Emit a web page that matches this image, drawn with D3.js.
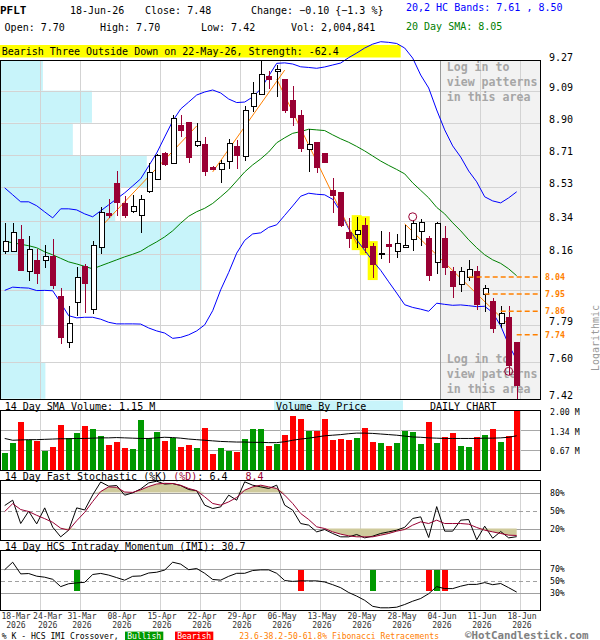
<!DOCTYPE html>
<html><head><meta charset="utf-8">
<script src="https://cdn.jsdelivr.net/npm/d3@7/dist/d3.min.js"></script>
<style>
body{margin:0;background:#fff}
svg{display:block}
text{font-family:"DejaVu Sans Mono","Liberation Mono",monospace;white-space:pre}
</style>
</head><body>
<svg id="chart" width="600" height="640"></svg>
<script>
// ---------------- DATA ----------------
const ticker = "PFLT";
const dates = ["18-Mar","19-Mar","20-Mar","23-Mar","24-Mar","25-Mar","26-Mar","27-Mar","30-Mar","31-Mar",
"01-Apr","02-Apr","06-Apr","07-Apr","08-Apr","09-Apr","10-Apr","13-Apr","14-Apr","15-Apr","16-Apr","17-Apr","20-Apr","21-Apr","22-Apr","23-Apr","24-Apr","27-Apr","28-Apr","29-Apr","30-Apr",
"01-May","04-May","05-May","06-May","07-May","08-May","11-May","12-May","13-May","14-May","15-May","18-May","19-May","20-May","21-May","22-May","26-May","27-May","28-May","29-May",
"01-Jun","02-Jun","03-Jun","04-Jun","05-Jun","08-Jun","09-Jun","10-Jun","11-Jun","12-Jun","15-Jun","16-Jun","17-Jun","18-Jun"];
const year = "2026";
const open  = [8.180,8.176,8.244,8.069,8.131,8.129,8.154,7.941,7.704,7.908,8.099,7.873,8.200,8.385,8.556,8.441,8.399,8.372,8.511,8.575,8.726,8.666,8.887,8.906,8.771,8.777,8.646,8.631,8.680,8.765,8.709,8.999,9.070,9.178,9.204,9.160,9.034,8.945,8.748,8.790,8.723,8.515,8.502,8.284,8.271,8.321,8.203,8.160,8.214,8.176,8.200,8.243,8.289,8.248,8.116,8.248,8.073,7.998,8.042,8.073,7.951,7.911,7.799,7.833,7.70];
const high  = [8.330,8.330,8.321,8.261,8.189,8.212,8.244,7.981,7.889,8.092,8.110,8.234,8.421,8.463,8.621,8.481,8.487,8.487,8.665,8.720,8.730,8.945,8.945,8.906,8.897,8.819,8.650,8.684,8.806,8.800,8.999,9.144,9.270,9.210,9.245,9.160,9.118,8.975,8.862,8.790,8.725,8.584,8.503,8.359,8.363,8.357,8.221,8.289,8.280,8.271,8.321,8.348,8.352,8.261,8.339,8.316,8.095,8.095,8.131,8.099,7.998,7.929,7.885,7.889,7.70];
const low   = [8.162,8.176,8.069,8.016,8.003,8.090,7.976,7.693,7.674,7.837,7.852,7.847,8.162,8.357,8.370,8.359,8.387,8.278,8.496,8.570,8.650,8.666,8.819,8.669,8.761,8.593,8.625,8.553,8.631,8.631,8.680,8.965,9.070,9.098,9.054,8.955,8.881,8.730,8.617,8.612,8.665,8.387,8.310,8.196,8.194,8.167,8.034,8.135,8.116,8.140,8.198,8.176,8.207,8.016,8.056,8.051,7.929,7.958,8.021,7.868,7.854,7.748,7.773,7.537,7.42];
const close = [8.234,8.280,8.069,8.189,8.058,8.151,7.993,7.725,7.799,8.039,8.005,8.212,8.390,8.372,8.441,8.370,8.425,8.463,8.617,8.713,8.656,8.926,8.854,8.694,8.794,8.617,8.627,8.666,8.784,8.709,8.975,9.078,9.190,9.154,9.218,8.971,8.926,8.748,8.775,8.637,8.669,8.478,8.312,8.243,8.293,8.194,8.104,8.167,8.200,8.221,8.212,8.330,8.339,8.046,8.330,8.090,7.989,8.069,8.082,7.894,7.981,7.768,7.851,7.580,7.48];
const volume = [0.57,0.90,1.60,1.01,0.97,0.64,0.77,1.50,1.07,1.23,1.47,1.37,1.13,0.83,0.93,0.73,0.70,1.67,1.07,1.27,0.97,1.07,0.77,0.83,0.73,1.40,0.54,0.74,0.64,0.60,1.04,1.37,1.37,0.80,0.88,1.17,1.80,1.73,1.30,1.30,1.73,1.00,1.04,1.00,1.07,1.40,0.94,0.90,0.80,0.90,1.31,1.27,0.87,1.60,0.90,1.10,1.23,0.80,0.77,1.10,1.17,1.37,0.93,1.13,2.004841]; // millions
const volSMA = [1.06,1.00,1.01,1.02,1.02,1.03,1.04,1.05,1.05,1.06,1.06,1.07,1.08,1.08,1.09,1.08,1.07,1.06,1.06,1.08,1.10,1.09,1.07,1.04,1.02,1.00,0.98,0.96,0.95,0.94,0.94,0.93,0.93,0.92,0.92,0.95,1.00,1.04,1.07,1.11,1.15,1.17,1.19,1.22,1.24,1.24,1.23,1.21,1.19,1.17,1.14,1.11,1.10,1.08,1.07,1.06,1.06,1.06,1.06,1.06,1.07,1.07,1.08,1.10,1.15];
const sma20 = [8.231,8.223,8.215,8.207,8.196,8.174,8.158,8.139,8.120,8.109,8.096,8.083,8.099,8.115,8.131,8.147,8.161,8.177,8.204,8.228,8.255,8.288,8.330,8.368,8.393,8.412,8.439,8.476,8.515,8.565,8.616,8.656,8.690,8.730,8.783,8.812,8.838,8.848,8.862,8.858,8.854,8.829,8.806,8.786,8.762,8.736,8.707,8.678,8.653,8.630,8.605,8.554,8.512,8.470,8.417,8.381,8.332,8.288,8.239,8.196,8.158,8.131,8.112,8.083,8.046];
const bandUpper = [8.526,8.487,8.448,8.448,8.426,8.392,8.359,8.409,8.409,8.403,8.381,8.365,8.398,8.431,8.465,8.498,8.537,8.577,8.650,8.724,8.817,8.910,8.981,9.022,9.064,9.082,9.094,9.076,9.040,9.019,9.022,9.052,9.100,9.178,9.255,9.258,9.251,9.234,9.230,9.225,9.233,9.245,9.257,9.290,9.318,9.349,9.373,9.388,9.384,9.377,9.349,9.287,9.184,9.106,8.975,8.858,8.765,8.701,8.621,8.560,8.476,8.453,8.442,8.470,8.504];
const bandLower = [7.969,7.986,7.983,7.981,7.968,7.969,7.967,7.904,7.837,7.826,7.829,7.829,7.819,7.803,7.795,7.795,7.795,7.794,7.774,7.759,7.748,7.721,7.726,7.739,7.759,7.790,7.863,7.972,8.064,8.167,8.236,8.271,8.277,8.307,8.321,8.373,8.425,8.479,8.496,8.490,8.487,8.462,8.392,8.299,8.239,8.182,8.126,8.075,8.014,7.955,7.894,7.880,7.871,7.860,7.902,7.896,7.891,7.893,7.889,7.884,7.886,7.853,7.785,7.688,7.612];
const stochK = [58.3,67.2,28.3,48.8,27.7,54.4,22.2,6.1,17.2,54.4,50.9,76.0,97.5,90.5,91.6,75.5,79.4,86.0,96.0,98.8,94.0,94.9,91.6,85.0,83.0,58.9,53.3,56.0,75.6,67.2,97.8,92.2,89.4,86.7,92.2,58.9,50.6,28.3,25.6,14.4,18.3,11.7,6.1,6.1,10.0,4.4,7.2,11.7,14.4,17.2,22.0,36.7,39.4,5.0,56.5,15.6,15.6,33.9,35.0,1.2,23.9,3.8,15.0,4.4,6.4];
const stochD = [48.3,61.4,51.6,48.3,42.0,36.4,30.3,20.5,17.2,33.0,47.0,65.0,81.6,89.4,88.6,80.8,80.2,84.5,90.0,94.2,95.3,95.0,92.0,86.7,83.0,72.8,61.7,58.9,64.4,71.7,83.9,89.4,92.2,89.4,86.7,75.6,61.7,45.0,35.0,22.8,20.0,14.4,10.6,7.8,6.1,6.1,6.1,8.9,11.7,15.6,18.3,25.6,31.1,28.3,33.9,28.3,28.3,28.3,27.2,21.7,17.2,14.4,11.7,8.9,8.4];
const imi = [68,80.5,61,61.6,57.2,55.5,52,39.8,44.6,46,47,60,61.8,59,54.8,50.5,57,57.6,62.5,63.8,67.4,80.5,77.3,68,70,62,51.7,50.6,57,62,62,66.6,67.7,67.7,62,50,48.5,49.4,49.4,49.4,47.5,43,38,30,24,17,7,4.5,4.5,5.5,10,15.5,20,28,39.8,36.5,36.5,40.5,43.5,43.5,46.5,43,45,38,30.7];
const imiBullish = [9,46,54];
const imiBearish = [37,53,55];
const priceTicks = [9.27,9.09,8.90,8.71,8.53,8.34,8.16,7.97,7.79,7.60,7.42];
const priceTickLabels = ["9.27","9.09","8.90","8.71","8.53","8.34","8.16","","7.79","7.60","7.42"];
const vbpVolume = [5.1,11.0,8.7,17.6,13.8,24.2,24.2,5.2,4.9,5.4]; // per price band, top to bottom
const volTicks = [2.00,1.34,0.67];
const stochTicks = [80,50,20];
const imiTicks = [70,50,30];
const fibLevels = [8.04,7.95,7.86,7.74];
const fibStart = [58,60,62,64];
const trendLines = [[12,8.308,24,8.881],[26,8.616,35,9.214],[34,9.160,44,8.217],[50,8.326,63,7.790]];
const patternDays = [44,45,46];
const patternName = "Bearish Three Outside Down";
const patternStrength = -62.4;
const signalCircles = [[51,8.365],[63,7.555]];
const loginFromIndex = 54;

// ---------------- DRAW ----------------
const svg = d3.select("#chart");
const n = dates.length;
const last = n - 1;
const x = d3.scaleLinear().domain([0, n - 1]).range([4.7, 516.7]);
const y = d3.scaleLog().domain([7.42, 9.27]).range([398.7, 60.9]);
const P = {l: 0.5, r: 540.5, t: 60.5, b: 399.5};
const volY = d3.scaleLinear().domain([0, 2.0]).range([470, 410.5]).clamp(true);
const stY = d3.scaleLinear().domain([0, 100]).range([540.5, 480.5]);
const imY = d3.scaleLinear().domain([0, 100]).range([610.5, 550.5]);
const vbpX = d3.scaleLinear().domain([0, d3.max(vbpVolume)]).range([0, 201.2]);
const gridIdx = d3.range(4, n, 5);
const gx = i => Math.floor(x(i) + 4) + 0.5;
const cxp = i => Math.round(x(i)) + 0.5;
const MAROON = "#990033", ORANGE = "#ff8000";

function txt(g, px, py, s, o = {}) {
  return g.append("text").attr("x", px).attr("y", py)
    .attr("dominant-baseline", o.base || "central")
    .attr("font-size", o.size || 10)
    .attr("font-weight", o.weight || "normal")
    .attr("fill", o.fill || "#000")
    .attr("text-anchor", o.anchor || "start")
    .text(s);
}

// header
const f2 = d3.format(".2f");
const chg = close[last] - close[last - 1];
txt(svg, 0, 10, ticker, {weight: "bold", size: 11});
txt(svg, 70, 10, dates[last] + "-26");
txt(svg, 145, 10, "Close: " + f2(close[last]));
txt(svg, 251, 10, "Change: " + f2(chg) + " {" + d3.format(".1f")(chg / close[last - 1] * 100) + " %}");
txt(svg, 406, 7, "20,2 HC Bands: " + f2(bandLower[last]) + " , " + f2(bandUpper[last]), {fill: "#0000ff"});
txt(svg, 4.6, 27.5, "Open: " + f2(open[last]));
txt(svg, 100, 27.5, "High: " + f2(high[last]));
txt(svg, 201, 27.5, "Low: " + f2(low[last]));
txt(svg, 291, 27.5, "Vol: " + d3.format(",")(Math.round(volume[last] * 1e6)));
txt(svg, 406, 26, "20 Day SMA: " + f2(sma20[last]), {fill: "#008000"});

// banner
svg.append("rect").attr("x", 0).attr("y", 45).attr("width", 400.7).attr("height", 12.5).attr("fill", "#ffff00");
txt(svg, 1.7, 51.5, patternName + " on " + dates[patternDays[2]] + "-26, Strength: " + patternStrength);

// main panel
const main = svg.append("g");
main.append("rect").attr("x", P.l).attr("y", P.t).attr("width", P.r - P.l).attr("height", P.b - P.t).attr("fill", "#fff");
vbpVolume.forEach((v, k) => {
  const y0 = y(priceTicks[k]), y1 = y(priceTicks[k + 1]);
  main.append("rect").attr("x", P.l).attr("y", Math.max(P.t, y0)).attr("width", vbpX(v))
    .attr("height", Math.min(P.b, y1) - Math.max(P.t, y0)).attr("fill", "#c8f4fa");
});
const gxL = gx(loginFromIndex);
main.append("rect").attr("x", gxL).attr("y", P.t).attr("width", P.r - gxL).attr("height", P.b - P.t).attr("fill", "#f2f2f2");
priceTicks.slice(1, -1).forEach(t => {
  const yy = Math.round(y(t)) + 0.5;
  main.append("line").attr("x1", P.l).attr("x2", P.r).attr("y1", yy).attr("y2", yy)
    .attr("stroke", "#d3d3d3").attr("stroke-width", 1).attr("shape-rendering", "crispEdges");
});
gridIdx.forEach(i => {
  main.append("line").attr("x1", gx(i)).attr("x2", gx(i)).attr("y1", P.t).attr("y2", P.b)
    .attr("stroke", "#d3d3d3").attr("stroke-width", 1).attr("shape-rendering", "crispEdges");
});
main.append("line").attr("x1", gxL).attr("x2", gxL).attr("y1", P.t).attr("y2", P.b)
  .attr("stroke", "#9a9a9a").attr("stroke-width", 1).attr("shape-rendering", "crispEdges");
const loginLines = ["Log in to", "view patterns", "in this area"];
[67.3, 359.3].forEach(y0 => {
  loginLines.forEach((s, k) => txt(main, 446.7, y0 + k * 15, s, {fill: "#a6a6a6", weight: "bold", size: 11.6}));
});
patternDays.forEach(i => {
  main.append("rect").attr("x", x(i) - 5).attr("y", y(high[i]) - 2).attr("width", 10)
    .attr("height", y(low[i]) - y(high[i]) + 4).attr("fill", "#ffff00");
});
const lineP = arr => d3.line().x((d, i) => x(i)).y(d => y(d))(arr);
main.append("path").attr("d", lineP(sma20)).attr("fill", "none").attr("stroke", "#008000").attr("stroke-width", 1);
main.append("path").attr("d", lineP(bandLower)).attr("fill", "none").attr("stroke", "#0000ff").attr("stroke-width", 1);
main.append("path").attr("d", lineP(bandUpper)).attr("fill", "none").attr("stroke", "#0000ff").attr("stroke-width", 1);
trendLines.forEach(([i0, p0, i1, p1]) => {
  main.append("line").attr("x1", x(i0)).attr("y1", y(p0)).attr("x2", x(i1)).attr("y2", y(p1))
    .attr("stroke", ORANGE).attr("stroke-width", 1);
});
d3.range(n).forEach(i => {
  const up = close[i] >= open[i];
  const c = up ? "#000" : MAROON;
  const cx = cxp(i);
  main.append("line").attr("x1", cx).attr("x2", cx).attr("y1", y(high[i])).attr("y2", y(low[i]))
    .attr("stroke", c).attr("stroke-width", 1).attr("shape-rendering", "crispEdges");
  const top = y(Math.max(open[i], close[i])), bot = y(Math.min(open[i], close[i]));
  if (up) {
    main.append("rect").attr("x", cx - 2.5).attr("y", Math.round(top) + 0.5).attr("width", 5)
      .attr("height", Math.max(1, Math.round(bot - top))).attr("fill", "#fff").attr("stroke", "#000")
      .attr("stroke-width", 1).attr("shape-rendering", "crispEdges");
  } else {
    main.append("rect").attr("x", cx - 3.5).attr("y", top).attr("width", 6)
      .attr("height", Math.max(1.5, bot - top)).attr("fill", MAROON).attr("shape-rendering", "crispEdges");
  }
});
signalCircles.forEach(([i, p]) => {
  main.append("circle").attr("cx", x(i)).attr("cy", y(p)).attr("r", 4)
    .attr("fill", "none").attr("stroke", MAROON).attr("stroke-width", 1);
});
fibLevels.forEach((f, k) => {
  const yy = y(f);
  main.append("line").attr("x1", x(fibStart[k])).attr("x2", P.r).attr("y1", yy).attr("y2", yy)
    .attr("stroke", ORANGE).attr("stroke-width", 1.5).attr("stroke-dasharray", "5,3");
  txt(svg, 545, yy, f2(f), {fill: ORANGE, size: 8.3, weight: "bold"});
});
main.append("rect").attr("x", P.l).attr("y", P.t).attr("width", P.r - P.l).attr("height", P.b - P.t)
  .attr("fill", "none").attr("stroke", "#000").attr("stroke-width", 1).attr("shape-rendering", "crispEdges");
priceTicks.forEach((t, k) => {
  if (priceTickLabels[k]) txt(svg, 549, y(t), priceTickLabels[k], {base: "auto", size: 10});
});
txt(svg, 0, 0, "Logarithmic", {fill: "#999", size: 10, anchor: "middle"})
  .attr("transform", "translate(595,338) rotate(-90)");

// ---------- volume panel ----------
const vp = {t: 410.5, b: 470.5};
svg.append("rect").attr("x", 274).attr("y", 400.5).attr("width", 129).attr("height", 9.5).attr("fill", "#c8f4fa");
txt(svg, 4.7, 406, "14 Day SMA Volume: " + f2(volSMA[last]) + " M");
txt(svg, 276, 406, "Volume By Price");
txt(svg, 430, 406, "DAILY CHART");
const vg = svg.append("g");
volTicks.slice(1).forEach(t => {
  const yy = Math.round(volY(t)) + 0.5;
  vg.append("line").attr("x1", P.l).attr("x2", P.r).attr("y1", yy).attr("y2", yy)
    .attr("stroke", "#a8a8a8").attr("shape-rendering", "crispEdges");
});
gridIdx.forEach(i => vg.append("line").attr("x1", gx(i)).attr("x2", gx(i)).attr("y1", vp.t).attr("y2", vp.b)
  .attr("stroke", "#d3d3d3").attr("shape-rendering", "crispEdges"));
d3.range(n).forEach(i => {
  vg.append("rect").attr("x", Math.round(x(i) - 3)).attr("y", volY(volume[i])).attr("width", 6)
    .attr("height", 470 - volY(volume[i])).attr("fill", close[i] >= open[i] ? "#009900" : "#ff0000")
    .attr("shape-rendering", "crispEdges");
});
vg.append("path").attr("d", d3.line().x((d, i) => x(i)).y(d => volY(d))(volSMA))
  .attr("fill", "none").attr("stroke", "#000").attr("stroke-width", 1);
vg.append("rect").attr("x", P.l).attr("y", vp.t).attr("width", P.r - P.l).attr("height", vp.b - vp.t)
  .attr("fill", "none").attr("stroke", "#000").attr("shape-rendering", "crispEdges");
volTicks.forEach(t => txt(svg, 550, volY(t) + 1.4, f2(t) + " M", {size: 8.2}));

// ---------- stochastic panel ----------
const sp = {t: 480.5, b: 540.5};
const sl = txt(svg, 4.7, 476, "14 Day Fast Stochastic (%K) ");
sl.append("tspan").attr("fill", MAROON).text("(%D)");
sl.append("tspan").text(": " + stochK[last].toFixed(1) + "   ");
sl.append("tspan").attr("fill", MAROON).text(stochD[last].toFixed(1));
const sg = svg.append("g");
gridIdx.forEach(i => sg.append("line").attr("x1", gx(i)).attr("x2", gx(i)).attr("y1", sp.t).attr("y2", sp.b)
  .attr("stroke", "#d3d3d3").attr("shape-rendering", "crispEdges"));
stochTicks.forEach(t => {
  const yy = Math.round(stY(t)) + 0.5;
  sg.append("line").attr("x1", P.l).attr("x2", P.r).attr("y1", yy).attr("y2", yy)
    .attr("stroke", "#a0a0a0").attr("stroke-dasharray", t === 50 ? "4,3" : null).attr("shape-rendering", "crispEdges");
  txt(svg, 550, stY(t), t + "%", {size: 8.2});
});
sg.append("path").attr("d", d3.area().x((d, i) => x(i)).y0(stY(80)).y1(d => stY(Math.max(80, d)))(stochD))
  .attr("fill", "#cfca9c");
sg.append("path").attr("d", d3.area().x((d, i) => x(i)).y0(stY(20)).y1(d => stY(Math.min(20, d)))(stochD))
  .attr("fill", "#cfca9c");
sg.append("path").attr("d", d3.line().x((d, i) => x(i)).y(d => stY(d))(stochK))
  .attr("fill", "none").attr("stroke", "#000").attr("stroke-width", 1);
sg.append("path").attr("d", d3.line().x((d, i) => x(i)).y(d => stY(d))(stochD))
  .attr("fill", "none").attr("stroke", MAROON).attr("stroke-width", 1);
sg.append("rect").attr("x", P.l).attr("y", sp.t).attr("width", P.r - P.l).attr("height", sp.b - sp.t)
  .attr("fill", "none").attr("stroke", "#000").attr("shape-rendering", "crispEdges");

// ---------- IMI panel ----------
const ip = {t: 550.5, b: 610.5};
txt(svg, 4.7, 546, "14 Day HCS Intraday Momentum (IMI): " + imi[last].toFixed(1));
const ig = svg.append("g");
gridIdx.forEach(i => ig.append("line").attr("x1", gx(i)).attr("x2", gx(i)).attr("y1", ip.t).attr("y2", ip.b)
  .attr("stroke", "#d3d3d3").attr("shape-rendering", "crispEdges"));
imiTicks.forEach(t => {
  const yy = Math.round(imY(t)) + 0.5;
  ig.append("line").attr("x1", P.l).attr("x2", P.r).attr("y1", yy).attr("y2", yy)
    .attr("stroke", "#a0a0a0").attr("stroke-dasharray", t === 50 ? "4,3" : null).attr("shape-rendering", "crispEdges");
  txt(svg, 550, imY(t), t + "%", {size: 8.2});
});
[[imiBullish, "#009900"], [imiBearish, "#ff0000"]].forEach(([arr, col]) => {
  arr.forEach(i => ig.append("rect").attr("x", Math.round(x(i) - 3)).attr("y", imY(67)).attr("width", 6)
    .attr("height", imY(32) - imY(67)).attr("fill", col).attr("shape-rendering", "crispEdges"));
});
ig.append("path").attr("d", d3.line().x((d, i) => x(i)).y(d => imY(d))(imi))
  .attr("fill", "none").attr("stroke", "#000").attr("stroke-width", 1);
ig.append("rect").attr("x", P.l).attr("y", ip.t).attr("width", P.r - P.l).attr("height", ip.b - ip.t)
  .attr("fill", "none").attr("stroke", "#000").attr("shape-rendering", "crispEdges");

// ---------- x axis labels ----------
const labelIdx = [0].concat(gridIdx);
let prevRight = -Infinity;
labelIdx.forEach(i => {
  const w = 30;
  let c = i === 0 ? 1 + w / 2 : x(i) + 4 + 1.3;
  if (c - w / 2 < prevRight + 1.7) c = prevRight + 1.7 + w / 2;
  prevRight = c + w / 2;
  const t = svg.append("text").attr("x", c).attr("y", 618.8).attr("font-size", 8.1)
    .attr("text-anchor", "middle").attr("fill", "#333");
  t.append("tspan").attr("x", c).attr("dy", 0).text(dates[i]);
  t.append("tspan").attr("x", c).attr("dy", 8.8).text(year);
});

// ---------- legend ----------
const LY = 636.4;
txt(svg, 1.7, LY, "% K - HCS IMI Crossover,", {size: 8.1});
svg.append("rect").attr("x", 125).attr("y", 631.6).attr("width", 38.3).attr("height", 8.4).attr("fill", "#009900");
txt(svg, 144.2, LY, "Bullish", {size: 8.1, fill: "#fff", anchor: "middle"});
svg.append("rect").attr("x", 175).attr("y", 631.6).attr("width", 38.3).attr("height", 8.4).attr("fill", "#ff0000");
txt(svg, 194.2, LY, "Bearish", {size: 8.1, fill: "#fff", anchor: "middle"});
txt(svg, 239.3, LY, "23.6-38.2-50-61.8% Fibonacci Retracements", {size: 8.1, fill: ORANGE});
txt(svg, 465, 638.5, "\u00A9HotCandlestick.com", {size: 10.8, weight: "bold", fill: "#808080", base: "auto"});
</script>
</body></html>
